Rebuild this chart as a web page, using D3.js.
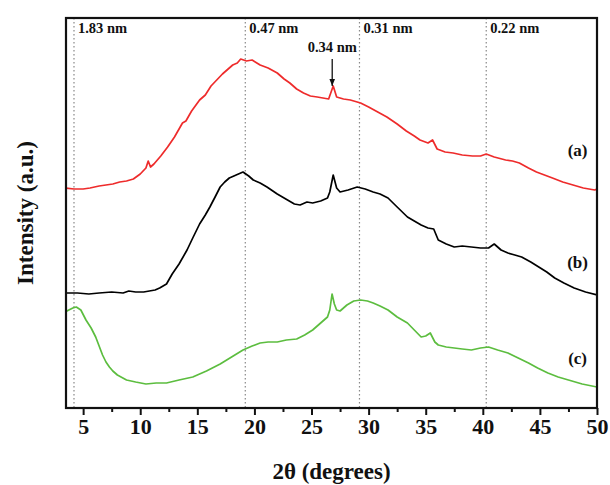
<!DOCTYPE html>
<html>
<head>
<meta charset="utf-8">
<script src="https://cdn.jsdelivr.net/npm/d3@7"></script>
<style>
  body { margin: 0; background: #fff; }
  svg text { font-family: "Liberation Serif", "Times New Roman", serif; font-weight: bold; fill: #111; }
</style>
</head>
<body>
<svg id="chart" width="610" height="485"></svg>
<script>
// 2theta (deg), intensity (a.u., offset curves)
var seriesA = [[3.4,220],[4.2,219],[5.0,219],[5.6,220],[6.4,222],[7.0,223],[7.6,224],[8.2,226],[8.8,227],[9.4,229],[10.0,234],[10.5,240],[10.7,247],[10.9,241],[11.2,244],[11.8,252],[12.4,261],[13.0,271],[13.7,285],[14.0,287],[14.5,297],[15.2,308],[15.7,313],[16.2,322],[16.7,328],[17.2,334],[17.7,339],[18.1,343],[18.5,345],[18.8,349],[19.3,347],[19.8,348],[20.5,343],[21.2,340],[22.0,335],[22.6,329],[23.1,325],[23.7,319],[24.3,315],[24.9,312],[25.5,311],[26.0,310],[26.5,309],[26.9,322],[27.2,311],[27.8,309],[28.4,308],[29.3,305],[30.0,301],[30.8,296],[31.6,291],[32.5,284],[33.3,277],[34.0,272],[34.5,268],[35.2,265],[35.6,268],[36.0,259],[36.7,256],[37.4,255],[38.2,253],[39.1,252],[39.8,252],[40.3,254],[41.0,251],[42.0,248],[42.6,247],[43.2,245],[44.0,240],[44.7,236],[45.4,233],[46.1,230],[47.0,226],[47.9,223],[48.8,220],[49.8,218],[50.0,219]];
var seriesB = [[3.4,115],[4.5,115],[5.5,114],[6.4,115],[7.5,116],[8.5,115],[9.0,117],[9.6,116],[10.3,116],[10.8,117],[11.3,118],[11.7,120],[12.3,124],[12.8,134],[13.4,144],[14.1,158],[14.6,170],[15.2,184],[15.7,193],[16.1,201],[16.6,212],[17.0,221],[17.4,226],[17.8,230],[18.4,233],[19.0,236],[19.5,232],[19.9,228],[20.5,225],[21.1,221],[22.0,214],[22.9,208],[23.5,204],[24.0,203],[24.6,206],[25.1,205],[25.8,207],[26.4,210],[26.6,216],[26.9,233],[27.2,220],[27.5,216],[28.2,218],[29.0,221],[29.7,219],[30.4,216],[31.0,214],[31.7,210],[32.5,201],[33.4,191],[34.0,187],[34.6,183],[35.2,180],[35.7,179],[36.1,168],[36.8,164],[37.5,161],[38.2,162],[39.0,161],[39.8,160],[40.5,160],[41.0,164],[41.6,158],[42.2,155],[42.8,153],[43.4,151],[44.2,146],[44.9,141],[45.6,136],[46.3,130],[47.1,125],[48.0,120],[49.0,116],[50.0,113]];
var seriesC = [[3.4,96],[3.75,98],[4.1,100],[4.4,101],[4.8,98],[5.25,88],[5.7,80],[6.1,71],[6.4,62],[6.7,53],[7.0,46],[7.3,41],[7.6,37],[8.0,33],[8.8,28],[9.6,26],[10.5,24],[11.4,25],[12.3,25],[13.4,28],[14.6,31],[15.8,37],[17.0,44],[18.0,51],[19.0,58],[19.8,62],[20.5,65],[21.2,66],[22.0,66],[22.8,68],[23.7,69],[24.4,73],[25.1,78],[25.8,85],[26.4,91],[26.6,98],[26.8,114],[27.0,104],[27.2,98],[27.5,97],[28.1,103],[28.7,107],[29.3,108],[29.9,107],[30.4,105],[31.0,102],[31.7,98],[32.5,91],[33.4,85],[34.0,78],[34.6,71],[35.0,72],[35.4,75],[35.8,66],[36.1,63],[36.8,61],[37.5,60],[38.2,59],[39.0,58],[39.8,60],[40.5,61],[41.3,58],[42.2,55],[43.1,50],[44.0,45],[44.8,40],[45.7,35],[46.6,31],[47.5,28],[48.7,24],[50.0,21]];

var seriesNames = ['(a)', '(b)', '(c)'];
var seriesColors = ['#ee2b2b', '#000000', '#5cbd3f'];
var seriesLabelY = [258, 146, 50];   // intensity where each name sits

var dLabels = ['1.83 nm', '0.47 nm', '0.31 nm', '0.22 nm'];
var dTheta = [4.2, 19.2, 29.2, 40.3];
var peakLabel = '0.34 nm';
var peakTheta = 26.9;

var xTicks = [5, 10, 15, 20, 25, 30, 35, 40, 45, 50];
var xMinorTicks = [7.5, 12.5, 17.5, 22.5, 27.5, 32.5, 37.5, 42.5, 47.5];

var svg = d3.select('#chart');
var plotLeft = 66, plotRight = 597, plotTop = 18, plotBottom = 408;

var x = d3.scaleLinear().domain([3.5, 50]).range([plotLeft, plotRight]);
var y = d3.scaleLinear().domain([0, 390]).range([plotBottom, plotTop]);

var defs = svg.append('defs');
defs.append('clipPath').attr('id', 'plotclip')
  .append('rect')
  .attr('x', plotLeft).attr('y', plotTop)
  .attr('width', plotRight - plotLeft).attr('height', plotBottom - plotTop);

// dotted reference lines
svg.append('g').selectAll('line')
  .data(dTheta)
  .join('line')
  .attr('x1', function(d) { return x(d); })
  .attr('x2', function(d) { return x(d); })
  .attr('y1', plotTop)
  .attr('y2', plotBottom)
  .attr('stroke', '#888')
  .attr('stroke-width', 1.2)
  .attr('stroke-dasharray', '1.4,2.6');

svg.append('g').selectAll('text')
  .data(dLabels)
  .join('text')
  .attr('x', function(d, i) { return x(dTheta[i]) + 4; })
  .attr('y', 33)
  .attr('font-size', 14.5)
  .text(function(d) { return d; });

// curves
var line = d3.line()
  .x(function(d) { return x(d[0]); })
  .y(function(d) { return y(d[1]); });

var plot = svg.append('g').attr('clip-path', 'url(#plotclip)');
[seriesA, seriesB, seriesC].forEach(function(s, i) {
  plot.append('path')
    .datum(s)
    .attr('d', line)
    .attr('fill', 'none')
    .attr('stroke', seriesColors[i])
    .attr('stroke-width', 1.7)
    .attr('stroke-linejoin', 'round');
});

svg.append('g').selectAll('text')
  .data(seriesNames)
  .join('text')
  .attr('x', x(48.3))
  .attr('y', function(d, i) { return y(seriesLabelY[i]) + 6; })
  .attr('text-anchor', 'middle')
  .attr('font-size', 17)
  .text(function(d) { return d; });

// 0.34 nm arrow
defs.append('marker')
  .attr('id', 'arrowhead')
  .attr('viewBox', '0 0 10 10')
  .attr('refX', 10).attr('refY', 5)
  .attr('markerWidth', 7).attr('markerHeight', 7)
  .attr('markerUnits', 'userSpaceOnUse')
  .attr('orient', 'auto')
  .append('path')
  .attr('d', 'M0,1 L10,5 L0,9 Z')
  .attr('fill', '#111');

svg.append('line')
  .attr('x1', x(peakTheta) - 1).attr('x2', x(peakTheta) - 1)
  .attr('y1', 59).attr('y2', 86)
  .attr('stroke', '#111')
  .attr('stroke-width', 1.3)
  .attr('marker-end', 'url(#arrowhead)');

svg.append('text')
  .attr('x', x(peakTheta) - 1)
  .attr('y', 52)
  .attr('text-anchor', 'middle')
  .attr('font-size', 14.5)
  .text(peakLabel);

// x axis
var xAxis = d3.axisBottom(x)
  .tickValues(xTicks)
  .tickSize(7)
  .tickFormat(d3.format('d'));
var gx = svg.append('g')
  .attr('transform', 'translate(0,' + plotBottom + ')')
  .call(xAxis);
gx.select('.domain').remove();
gx.selectAll('.tick line').attr('stroke', '#111').attr('stroke-width', 2);
gx.selectAll('.tick text')
  .attr('font-size', 22)
  .attr('font-family', '"Liberation Serif", serif')
  .attr('font-weight', 'bold')
  .attr('fill', '#111')
  .attr('dy', '0.71em')
  .attr('y', 10);

svg.append('g')
  .attr('transform', 'translate(0,' + plotBottom + ')')
  .call(d3.axisBottom(x).tickValues(xMinorTicks).tickSize(4).tickFormat(''))
  .call(function(g) { g.select('.domain').remove(); })
  .selectAll('.tick line').attr('stroke', '#111').attr('stroke-width', 2);

// frame
svg.append('rect')
  .attr('x', plotLeft).attr('y', plotTop)
  .attr('width', plotRight - plotLeft).attr('height', plotBottom - plotTop)
  .attr('fill', 'none')
  .attr('stroke', '#111')
  .attr('stroke-width', 2.2);

// titles
svg.append('text')
  .attr('x', (plotLeft + plotRight) / 2)
  .attr('y', 479)
  .attr('text-anchor', 'middle')
  .attr('font-size', 23)
  .text('2\u03b8 (degrees)');

svg.append('text')
  .attr('transform', 'translate(33,213) rotate(-90)')
  .attr('text-anchor', 'middle')
  .attr('font-size', 23)
  .text('Intensity (a.u.)');
</script>
</body>
</html>
